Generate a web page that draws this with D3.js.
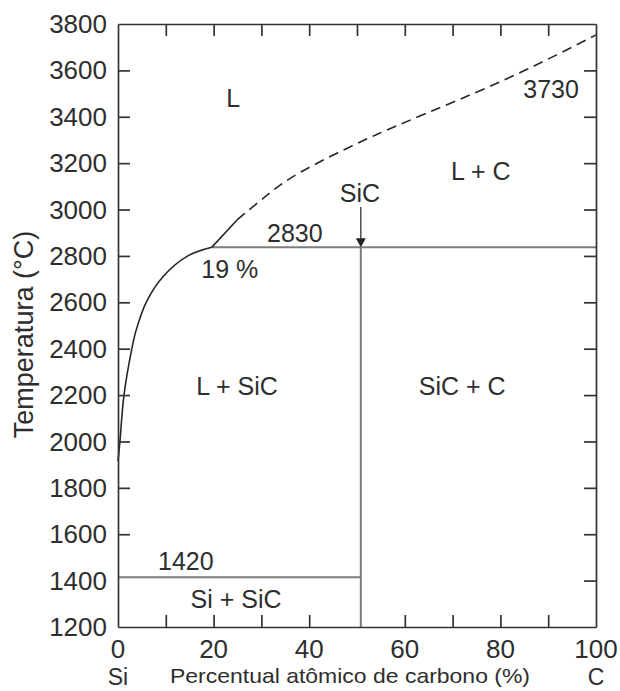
<!DOCTYPE html>
<html>
<head>
<meta charset="utf-8">
<script src="https://cdn.jsdelivr.net/npm/d3@7"></script>
<style>
  html, body { margin: 0; padding: 0; background: #fff; }
  svg { display: block; font-family: "Liberation Sans", Arial, Helvetica, sans-serif; }
</style>
</head>
<body>
<svg id="chart" width="620" height="691"></svg>
<script>
// ---- data ----
const xTicks = [10, 20, 30, 40, 50, 60, 70, 80, 90];
const xTickLabels = [0, 20, 40, 60, 80, 100];
const yTicks = [1400, 1600, 1800, 2000, 2200, 2400, 2600, 2800, 3000, 3200, 3400, 3600];
const yTickLabels = [1200, 1400, 1600, 1800, 2000, 2200, 2400, 2600, 2800, 3000, 3200, 3400, 3600, 3800];

// liquidus on the Si side (solid), % C vs temperature
const liquidusLow = [[0, 1915], [0.4, 2000], [1.25, 2200], [2.9, 2400], [3.8, 2480], [5.9, 2600], [9.4, 2710], [14.6, 2800], [19.6, 2837]];
// liquidus above the peritectic (solid part)
const liquidusHighSolid = [[19.6, 2837], [24.9, 2955]];
// liquidus, estimated (dashed)
const liquidusDashed = [[24.9, 2955], [31.8, 3072], [38.1, 3160], [48.5, 3270], [59, 3367], [70.9, 3470], [84.8, 3597], [100, 3753]];

const peritecticT = 2837;   // labelled 2830
const peritecticX = 19.6;   // labelled 19 %
const eutecticT = 1415;     // labelled 1420
const sicX = 50.8;          // SiC composition line
const arrowTopT = 3011;

const labels = [
  { text: "L", x: 24.1, t: 3442 },
  { text: "3730", x: 90.6, t: 3481 },
  { text: "L + C", x: 75.9, t: 3127 },
  { text: "SiC", x: 50.6, t: 3032 },
  { text: "2830", x: 37.0, t: 2860 },
  { text: "19 %", x: 23.4, t: 2705 },
  { text: "L + SiC", x: 24.9, t: 2200 },
  { text: "SiC + C", x: 72.0, t: 2200 },
  { text: "1420", x: 14.2, t: 1446 },
  { text: "Si + SiC", x: 24.7, t: 1282 }
];

// ---- drawing ----
const svg = d3.select("#chart");
const mLeft = 118, mRight = 596, mTop = 24, mBottom = 627;
const x = d3.scaleLinear().domain([0, 100]).range([mLeft, mRight]);
const y = d3.scaleLinear().domain([1200, 3800]).range([mBottom, mTop]);

const axisColor = "#333333";
const textColor = "#2e2e2e";
const phaseColor = "#7d7d7d";
const tickLen = 12;

// phase lines
const g = svg.append("g");
g.append("line").attr("x1", x(peritecticX)).attr("x2", x(100))
  .attr("y1", y(peritecticT)).attr("y2", y(peritecticT))
  .attr("stroke", phaseColor).attr("stroke-width", 2);
g.append("line").attr("x1", x(0)).attr("x2", x(sicX))
  .attr("y1", y(eutecticT)).attr("y2", y(eutecticT))
  .attr("stroke", phaseColor).attr("stroke-width", 2);
g.append("line").attr("x1", x(sicX)).attr("x2", x(sicX))
  .attr("y1", y(peritecticT)).attr("y2", y(1200))
  .attr("stroke", phaseColor).attr("stroke-width", 2);

// arrow SiC
g.append("line").attr("x1", x(sicX)).attr("x2", x(sicX))
  .attr("y1", y(arrowTopT)).attr("y2", y(peritecticT) - 6)
  .attr("stroke", "#333").attr("stroke-width", 1.3);
const ax = x(sicX), ay = y(peritecticT);
g.append("path")
  .attr("d", `M${ax - 5},${ay - 9} L${ax + 5},${ay - 9} L${ax},${ay} Z`)
  .attr("fill", "#222");

// liquidus
const lineGen = d3.line().x(d => x(d[0])).y(d => y(d[1]));
g.append("path").datum(liquidusLow)
  .attr("d", d3.line().x(d => x(d[0])).y(d => y(d[1])).curve(d3.curveCatmullRom.alpha(0.5)))
  .attr("fill", "none").attr("stroke", "#262626").attr("stroke-width", 1.6);
g.append("path").datum(liquidusHighSolid)
  .attr("d", lineGen)
  .attr("fill", "none").attr("stroke", "#262626").attr("stroke-width", 1.6);
g.append("path").datum(liquidusDashed)
  .attr("d", d3.line().x(d => x(d[0])).y(d => y(d[1])).curve(d3.curveNatural))
  .attr("fill", "none").attr("stroke", "#262626").attr("stroke-width", 1.6)
  .attr("stroke-dasharray", "10,6");

// frame axes using d3 axes with inward ticks
const fmt = () => "";
svg.append("g").attr("transform", `translate(0,${mBottom})`)
  .call(d3.axisBottom(x).tickValues(xTicks.filter(v => v !== 50)).tickSize(-tickLen).tickSizeOuter(0).tickFormat(fmt))
  .call(s => s.selectAll("line,path").attr("stroke", axisColor).attr("stroke-width", 1.7));
svg.append("g").attr("transform", `translate(0,${mTop})`)
  .call(d3.axisTop(x).tickValues(xTicks).tickSize(-tickLen).tickSizeOuter(0).tickFormat(fmt))
  .call(s => s.selectAll("line,path").attr("stroke", axisColor).attr("stroke-width", 1.7));
svg.append("g").attr("transform", `translate(${mLeft},0)`)
  .call(d3.axisLeft(y).tickValues(yTicks.filter(v => v !== 1400)).tickSize(-tickLen).tickSizeOuter(0).tickFormat(fmt))
  .call(s => s.selectAll("line,path").attr("stroke", axisColor).attr("stroke-width", 1.7));
svg.append("g").attr("transform", `translate(${mRight},0)`)
  .call(d3.axisRight(y).tickValues(yTicks).tickSize(-tickLen).tickSizeOuter(0).tickFormat(fmt))
  .call(s => s.selectAll("line,path").attr("stroke", axisColor).attr("stroke-width", 1.7));

// tick labels
svg.append("g").selectAll("text").data(yTickLabels).join("text")
  .attr("x", mLeft - 11).attr("y", d => y(d)).attr("dy", "0.35em")
  .attr("text-anchor", "end").attr("font-size", 26).attr("fill", textColor)
  .text(d => d);
svg.append("g").selectAll("text").data(xTickLabels).join("text")
  .attr("x", d => x(d)).attr("y", 658)
  .attr("text-anchor", "middle").attr("font-size", 26).attr("fill", textColor)
  .text(d => d);

// axis titles
svg.append("text").attr("transform", `translate(33,334.5) rotate(-90)`)
  .attr("text-anchor", "middle").attr("font-size", 27).attr("fill", textColor)
  .text("Temperatura (°C)");
svg.append("text").attr("x", 350).attr("y", 683)
  .attr("text-anchor", "middle").attr("font-size", 21).attr("fill", textColor)
  .attr("textLength", 360).attr("lengthAdjust", "spacingAndGlyphs")
  .text("Percentual atômico de carbono (%)");
svg.append("text").attr("x", x(0)).attr("y", 685).attr("text-anchor", "middle")
  .attr("font-size", 23).attr("fill", textColor).text("Si");
svg.append("text").attr("x", x(100)).attr("y", 685).attr("text-anchor", "middle")
  .attr("font-size", 23).attr("fill", textColor).text("C");

// region labels
svg.append("g").selectAll("text").data(labels).join("text")
  .attr("x", d => x(d.x)).attr("y", d => y(d.t))
  .attr("text-anchor", "middle").attr("font-size", 25).attr("fill", textColor)
  .text(d => d.text);
</script>
</body>
</html>
